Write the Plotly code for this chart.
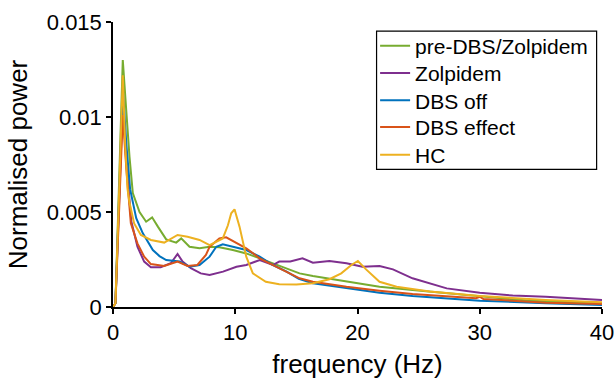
import plotly.graph_objects as go

# ---- data ----
freq_pre = [0, 0.2, 0.5, 0.8, 1.1, 1.35, 1.62, 2.17, 2.71, 3.2, 3.67, 4.35, 5.17, 5.58, 6.26, 7.08, 7.9, 8.7, 9.8, 10.9, 12, 13.08, 14.2, 15.26, 16.35, 19.1, 21.8, 24.5, 27.3, 30, 34.1, 40]
pow_pre = [0, 0.0002, 0.0066, 0.0130, 0.0102, 0.0079, 0.0060, 0.0050, 0.00449, 0.00472, 0.00423, 0.00356, 0.00339, 0.00361, 0.00317, 0.00309, 0.00317, 0.00315, 0.0030, 0.00282, 0.00256, 0.0023, 0.00204, 0.00177, 0.00163, 0.00133, 0.00107, 0.00089, 0.00072, 0.00054, 0.00033, 0.0002]

freq_zol = [0, 0.2, 0.5, 0.8, 1.1, 1.5, 2.0, 2.55, 3.1, 3.9, 4.73, 5.28, 5.69, 6.37, 7.18, 7.9, 9.0, 10.1, 10.9, 12, 13.08, 13.6, 14.5, 15.5, 16.35, 17.7, 19.1, 20.4, 21.8, 22.9, 24.5, 27.3, 30, 32.7, 35.4, 40]
pow_zol = [0, 0.0002, 0.0055, 0.0108, 0.0075, 0.0045, 0.00317, 0.00239, 0.00209, 0.00209, 0.0023, 0.00279, 0.00239, 0.00204, 0.00177, 0.00168, 0.00186, 0.00212, 0.00221, 0.00247, 0.00221, 0.00239, 0.0024, 0.00256, 0.00233, 0.00242, 0.0023, 0.00212, 0.00216, 0.00198, 0.00151, 0.00098, 0.00075, 0.0006, 0.00054, 0.00037]

freq_off = [0, 0.2, 0.5, 0.8, 1.1, 1.4, 1.9, 2.44, 3.26, 3.8, 4.35, 5.44, 6.26, 7.08, 7.9, 8.45, 8.98, 9.8, 10.9, 12, 13.08, 14.2, 15.2, 16.35, 19.1, 21.8, 24.5, 30, 35.4, 40]
pow_off = [0, 0.0002, 0.0058, 0.0115, 0.0085, 0.0062, 0.00467, 0.00388, 0.0030, 0.00268, 0.00247, 0.00239, 0.00212, 0.00221, 0.00265, 0.00317, 0.0033, 0.00317, 0.0030, 0.00265, 0.00221, 0.00186, 0.00148, 0.00125, 0.00098, 0.00075, 0.00058, 0.00033, 0.0002, 0.0001]

freq_eff = [0, 0.2, 0.5, 0.8, 1.1, 1.46, 2.0, 2.55, 3.1, 4.19, 5.28, 6.1, 6.9, 7.6, 7.9, 8.7, 9.26, 10.1, 10.9, 12, 13.08, 14.2, 15.26, 16.35, 19.1, 21.8, 24.5, 29.7, 30, 30.3, 35.4, 40]
pow_eff = [0, 0.0002, 0.0051, 0.0101, 0.0072, 0.0044, 0.00335, 0.00265, 0.00226, 0.00216, 0.00239, 0.00216, 0.00221, 0.00274, 0.00317, 0.00361, 0.00367, 0.00335, 0.00309, 0.00256, 0.00221, 0.00186, 0.00151, 0.00133, 0.00107, 0.00086, 0.00068, 0.00046, 0.00054, 0.00042, 0.00023, 0.00016]

freq_hc = [0, 0.2, 0.5, 0.8, 1.0, 1.19, 1.35, 1.73, 2.28, 3.1, 4.19, 5.28, 6.1, 7.08, 7.9, 8.98, 9.4, 9.67, 9.94, 10.35, 10.9, 11.44, 12.5, 13.6, 15, 16.35, 17.7, 18.67, 19.5, 20.03, 20.7, 21.8, 23.2, 25.9, 30, 35.4, 40]
pow_hc = [0, 0.0002, 0.0061, 0.0122, 0.0085, 0.0062, 0.0055, 0.0044, 0.00379, 0.00353, 0.00339, 0.00379, 0.0037, 0.00353, 0.00326, 0.00361, 0.0043, 0.00493, 0.00514, 0.00423, 0.00265, 0.00177, 0.00133, 0.0012, 0.00118, 0.00125, 0.00146, 0.00177, 0.00221, 0.00242, 0.00198, 0.00133, 0.00107, 0.00081, 0.00058, 0.00037, 0.00025]

series_names = ["pre-DBS/Zolpidem", "Zolpidem", "DBS off", "DBS effect", "HC"]
series_colors = ["#77AC30", "#7E2F8E", "#0072BD", "#D95319", "#EDB120"]
series_x = [freq_pre, freq_zol, freq_off, freq_eff, freq_hc]
series_y = [pow_pre, pow_zol, pow_off, pow_eff, pow_hc]

x_ticks = [0, 10, 20, 30, 40]
y_ticks = [0, 0.005, 0.01, 0.015]
y_ticklabels = ["0", "0.005", "0.01", "0.015"]

FONT = "Liberation Sans, Arial, sans-serif"

# legend layout (one single-entry legend per series, inside a drawn box)
legend_ids = ["legend", "legend2", "legend3", "legend4", "legend5"]
legend_x = 0.536
legend_y = [0.9158, 0.820, 0.7239, 0.6305, 0.5333]

fig = go.Figure()
for lid, name, color, xs, ys in zip(legend_ids, series_names, series_colors, series_x, series_y):
    fig.add_trace(go.Scatter(x=xs, y=ys, mode="lines", name=name, legend=lid,
                             line=dict(color=color, width=2)))

legend_common = dict(xanchor="left", yanchor="middle", bgcolor="rgba(0,0,0,0)",
                     borderwidth=0, font=dict(family=FONT, size=21, color="black"))
legend_layout = {lid: dict(x=legend_x, y=ly, **legend_common)
                 for lid, ly in zip(legend_ids, legend_y)}

fig.update_layout(
    width=616, height=382,
    margin=dict(l=113, r=14, t=22, b=75, autoexpand=False),
    paper_bgcolor="white", plot_bgcolor="white",
    font=dict(family=FONT, size=22, color="black"),
    showlegend=True,
    shapes=[dict(type="rect", xref="paper", yref="paper",
                 x0=0.539, x1=0.989, y0=0.483, y1=0.968,
                 line=dict(color="black", width=1.2), fillcolor="white", layer="above")],
    **legend_layout,
)
fig.update_xaxes(range=[0, 40], tickvals=x_ticks, showgrid=False, zeroline=False,
                 automargin=False,
                 showline=True, linecolor="black", linewidth=1.5,
                 ticks="outside", ticklen=5, tickwidth=1.5, tickcolor="black",
                 tickfont=dict(size=22, color="black"),
                 title=dict(text="frequency (Hz)", font=dict(size=26, color="black"), standoff=11))
fig.update_yaxes(range=[0, 0.015], tickvals=y_ticks, ticktext=y_ticklabels,
                 showgrid=False, zeroline=False, automargin=False,
                 showline=True, linecolor="black", linewidth=1.5,
                 ticks="outside", ticklen=5, tickwidth=1.5, tickcolor="black",
                 tickfont=dict(size=22, color="black"),
                 title=dict(text="Normalised power", font=dict(size=26, color="black"), standoff=12))

fig.write_html("out.html", config={"displayModeBar": False},
               post_script="document.body.style.margin='0px';document.body.style.overflow='hidden';")
